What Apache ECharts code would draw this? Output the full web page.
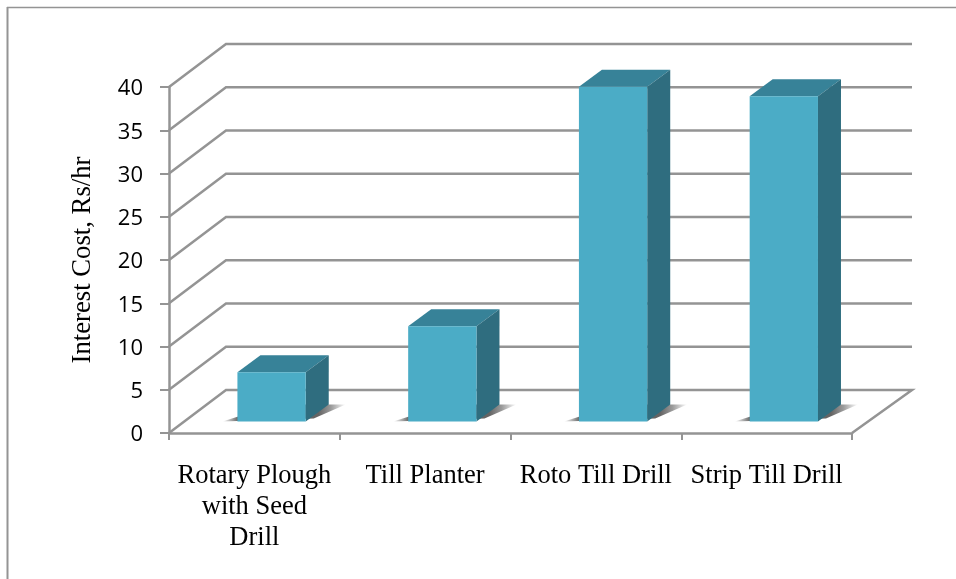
<!DOCTYPE html>
<html><head><meta charset="utf-8">
<script src="https://cdn.jsdelivr.net/npm/echarts@6/dist/echarts.min.js"></script>
<style>html,body{margin:0;padding:0;background:#fff}#c{width:956px;height:579px}</style>
</head><body><div id="c"></div>
<script>
const categories = ['Rotary Plough\nwith Seed\nDrill', 'Till Planter', 'Roto Till Drill', 'Strip Till Drill'];
const interestCost = [5.7, 11, 38.7, 37.6];
const yTicks = [0, 5, 10, 15, 20, 25, 30, 35, 40];
const yName = 'Interest Cost, Rs/hr';

const WALL_X = 57, WALL_Y = -43;     // depth of the 3D box
const WALL_RIGHT_EXTRA = 3;
const GAP_X = 17.2, GAP_Y = -11.5;   // bar offset from front of box
const DEPTH_X = 23, DEPTH_Y = -17;   // bar depth
const LINE = '#949494';
const chart = echarts.init(document.getElementById('c'), null, {renderer: 'canvas'});

function renderWall(params, api) {
  const cs = params.coordSys;
  const y = api.coord([0, api.value(1)])[1];
  const l = cs.x, r = cs.x + cs.width;
  const points = [[l, y], [l + WALL_X, y + WALL_Y], [r + WALL_X + WALL_RIGHT_EXTRA, y + WALL_Y]];
  if (api.value(1) === 0) points.push([r, y]);
  return {type: 'polyline', shape: {points}, style: {stroke: LINE, lineWidth: 2.5, fill: null}};
}
function renderBar(params, api) {
  const c = api.coord([api.value(0), api.value(1)]);
  const base = api.coord([api.value(0), 0]);
  const w = api.size([1, 0])[0] * 0.4;
  const x0 = c[0] - w / 2 + GAP_X, x1 = x0 + w;
  const yB = base[1] + GAP_Y, yT = c[1] + GAP_Y;
  const poly = (points, fill) => ({type: 'polygon', shape: {points}, style: {fill}});
  const sh = {
    type: 'polygon',
    shape: {points: [[x0 - 15, yB], [x0 + 39, yB + DEPTH_Y], [x1 + DEPTH_X + 17, yB + DEPTH_Y], [x1 + 8, yB - 3]]},
    style: {fill: new echarts.graphic.LinearGradient(0, 0, 1, 0, [
      {offset: 0, color: 'rgba(120,120,120,0)'},
      {offset: 0.12, color: 'rgba(110,110,110,1)'},
      {offset: 0.78, color: 'rgba(100,100,100,1)'},
      {offset: 0.88, color: 'rgba(120,120,120,0.75)'},
      {offset: 1, color: 'rgba(120,120,120,0)'}
    ])}
  };
  return {type: 'group', children: [
    sh,
    poly([[x0, yT], [x1, yT], [x1 + DEPTH_X, yT + DEPTH_Y], [x0 + DEPTH_X, yT + DEPTH_Y]], '#378298'),
    poly([[x1, yT], [x1 + DEPTH_X, yT + DEPTH_Y], [x1 + DEPTH_X, yB + DEPTH_Y], [x1, yB]], '#2f6d7f'),
    poly([[x0, yT], [x1, yT], [x1, yB], [x0, yB]], '#4bacc6')
  ]};
}

chart.setOption({
  animation: false,
  backgroundColor: '#fff',
  grid: {left: 169, right: 104, top: 87, bottom: 146},
  graphic: [
    {type: 'line', shape: {x1: 7, y1: 7.5, x2: 956, y2: 7.5}, style: {stroke: LINE, lineWidth: 1.5}},
    {type: 'line', shape: {x1: 7.5, y1: 7, x2: 7.5, y2: 579}, style: {stroke: LINE, lineWidth: 2}}
  ],
  xAxis: {
    type: 'category', data: categories,
    axisLine: {lineStyle: {color: LINE, width: 2.5}},
    axisTick: {show: true, length: 7, lineStyle: {color: LINE, width: 2}},
    axisLabel: {interval: 0, color: '#000', fontFamily: 'Liberation Serif', fontSize: 26.5, lineHeight: 31, margin: 28, hideOverlap: false}
  },
  yAxis: {
    type: 'value', min: 0, max: 40, interval: 5,
    name: yName, nameLocation: 'middle', nameGap: 73,
    nameTextStyle: {color: '#000', fontFamily: 'Liberation Serif', fontSize: 26.7},
    axisLine: {show: true, lineStyle: {color: LINE, width: 2.5}},
    axisTick: {show: true, length: 9, lineStyle: {color: LINE, width: 2}},
    splitLine: {show: false},
    axisLabel: {color: '#000', fontFamily: 'Open Sans', fontSize: 22, margin: 26, verticalAlign: 'top', lineHeight: 4}
  },
  series: [
    {type: 'custom', z: 1, silent: true, renderItem: renderWall, encode: {x: 0, y: 1},
     data: yTicks.map(v => [0, v])},
    {type: 'custom', z: 3, silent: true, renderItem: renderBar, encode: {x: 0, y: 1},
     data: interestCost.map((v, i) => [i, v])}
  ]
});
</script></body></html>
